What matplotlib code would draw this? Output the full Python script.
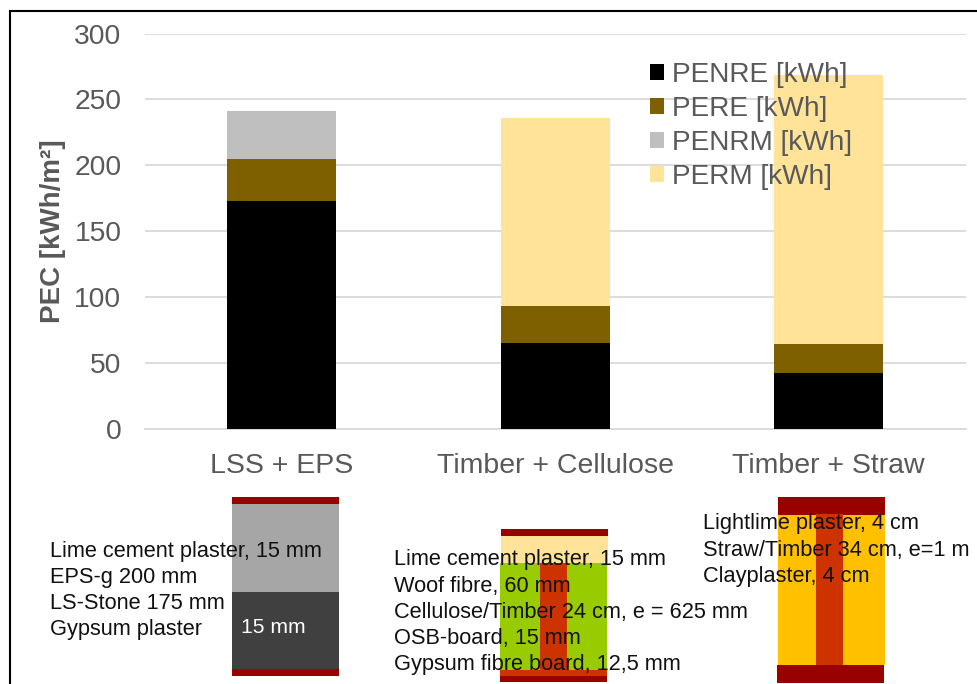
import matplotlib
matplotlib.use("Agg")
import matplotlib.pyplot as plt
from matplotlib.patches import Rectangle

plt.rcParams['font.family'] = ['Liberation Sans', 'DejaVu Sans']

categories = ["LSS + EPS", "Timber + Cellulose", "Timber + Straw"]
series_names = ["PENRE [kWh]", "PERE [kWh]", "PENRM [kWh]", "PERM [kWh]"]
penre = [173, 65, 42.5]
pere = [32, 28, 22]
penrm = [36, 0.5, 0]
perm = [0, 142.5, 204]
series_values = [penre, pere, penrm, perm]
series_colors = ["#000000", "#7F6000", "#BFBFBF", "#FFE399"]
y_ticks = [0, 50, 100, 150, 200, 250, 300]

wall1_text = "Lime cement plaster, 15 mm\nEPS-g 200 mm\nLS-Stone 175 mm\nGypsum plaster"
wall2_text = "Lime cement plaster, 15 mm\nWoof fibre, 60 mm\nCellulose/Timber 24 cm, e = 625 mm\nOSB-board, 15 mm\nGypsum fibre board, 12,5 mm"
wall3_text = "Lightlime plaster, 4 cm\nStraw/Timber 34 cm, e=1 m\nClayplaster, 4 cm"

W, H = 978, 684
fig = plt.figure(figsize=(W / 100, H / 100), dpi=100, facecolor="white")
GREY = "#595959"

ax = fig.add_axes([145 / W, 1 - 429 / H, (965.5 - 145) / W, (429 - 33.5) / H])
bottom = [0, 0, 0]
for name, vals, col in zip(series_names, series_values, series_colors):
    ax.bar(categories, vals, width=0.4, bottom=bottom, color=col, label=name, zorder=3)
    bottom = [b + v for b, v in zip(bottom, vals)]
ax.set_ylim(0, 300)
ax.set_xlim(-0.5, 2.5)
ax.set_yticks(y_ticks)
ax.grid(axis="y", color="#D9D9D9", lw=1.3, zorder=0)
ax.set_axisbelow(True)
for s in ["top", "right", "left"]:
    ax.spines[s].set_visible(False)
ax.spines["bottom"].set_color("#D9D9D9")
ax.spines["bottom"].set_linewidth(1.3)
ax.tick_params(axis="both", length=0, labelcolor=GREY)
ax.tick_params(axis="y", labelsize=20.3, pad=17)
ax.tick_params(axis="x", labelsize=20.5, pad=17)
ax.set_ylabel("PEC [kWh/m²]", fontsize=20, fontweight="bold", color=GREY, labelpad=6)
ax.patch.set_alpha(0)
leg = ax.legend(loc="upper left", bbox_to_anchor=(0.6155, 0.928), frameon=False, fontsize=20.2,
                labelcolor=GREY, handlelength=0.5, handleheight=0.5, handletextpad=0.27,
                labelspacing=0.28, borderpad=0, borderaxespad=0)

ov = fig.add_axes([0, 0, 1, 1], zorder=5)
ov.set_xlim(0, W)
ov.set_ylim(H, 0)
ov.axis("off")

def r(x0, x1, y0, y1, c):
    ov.add_patch(Rectangle((x0, y0), x1 - x0, y1 - y0, fc=c, ec="none"))

RED, TIM = "#990000", "#CC3300"
r(232, 339, 497, 504, RED); r(232, 339, 504, 592, "#A6A6A6")
r(232, 339, 592, 669, "#404040"); r(232, 339, 669, 676, RED)

r(501, 608, 529, 536, RED); r(501, 608, 536, 563, "#FFE399")
r(500, 607, 563, 670, "#99CC00"); r(540, 567, 563, 670, TIM)
r(500, 607, 670, 676, TIM); r(500, 607, 676, 682, RED)

r(778, 885, 497, 515, RED); r(778, 885, 515, 665, "#FFC000")
r(816, 843, 514, 665, TIM); r(777, 884, 665, 683, RED)

kw = dict(fontsize=15.7, color="#111111", linespacing=1.32, va="top", ha="left")
ov.text(50, 540.5, wall1_text, **kw)
ov.text(394, 549.5, wall2_text, **kw)
ov.text(703, 513.5, wall3_text, **kw)
ov.text(241, 618, "15 mm", fontsize=15.2, color="white", va="top", ha="left")

ov.plot([10, 10, W], [H, 11, 11], color="black", lw=1.5, solid_joinstyle="miter", clip_on=False)

fig.savefig("out.png", dpi=100)
